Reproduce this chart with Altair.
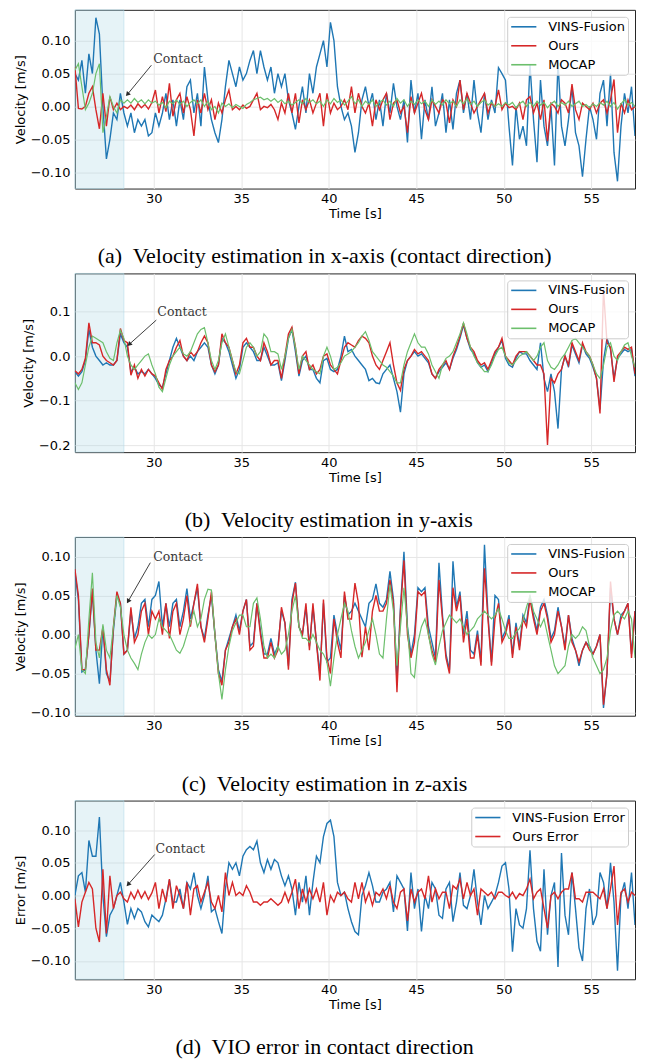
import altair as alt
import pandas as pd

# ---------------- shared axis values ----------------
T_START, T_STEP, N = 25.5, 0.2, 161
TIME = [round(T_START + T_STEP * i, 1) for i in range(N)]
X_DOMAIN = [25.5, 57.5]
X_TICKS = [30, 35, 40, 45, 50, 55]
SHADE = [25.5, 28.3]

# ---------------- (a) velocity x ----------------
A_VINS = [
    0.05, 0.04, 0.07, 0.02, 0.08,
    0.05, 0.135, 0.11, 0.0, -0.08,
    -0.05, -0.01, -0.02, 0.02, -0.01,
    -0.03, -0.01, -0.04, -0.02, -0.03,
    -0.02, -0.045, -0.04, -0.01, -0.03,
    -0.01, 0.02, -0.02, 0.01, -0.03,
    0.01, -0.02, 0.03, 0.04, -0.01,
    0.02, -0.03, 0.06, 0.01, -0.02,
    -0.04, -0.055, -0.02, 0.03, 0.07,
    0.05, 0.03, 0.06, 0.04, 0.05,
    0.07, 0.085, 0.05, 0.085, 0.06,
    0.04, 0.06, 0.02, 0.05, 0.03,
    0.05, 0.01, -0.01, -0.035, 0.0,
    0.03, -0.01, 0.05, 0.02, 0.06,
    0.08, 0.1, 0.06, 0.128, 0.1,
    0.03, 0.0, -0.02, -0.01, -0.03,
    -0.07, -0.04, 0.01, 0.03, 0.0,
    0.02, -0.02, 0.01, -0.03, 0.02,
    -0.01, 0.035, 0.0, -0.02, 0.01,
    -0.055, 0.04, -0.01, 0.02, -0.05,
    0.01, -0.02, 0.03, -0.03, -0.01,
    0.02, -0.04, 0.01, -0.035, 0.02,
    0.04, -0.01, 0.02, -0.02, 0.04,
    -0.01, -0.04, 0.02, -0.02, 0.01,
    -0.01, 0.059, 0.05, 0.04, -0.03,
    -0.09, 0.0, -0.05, -0.03, -0.06,
    0.064, -0.02, -0.085, 0.04, -0.03,
    -0.06, 0.0, -0.09, 0.067, -0.03,
    -0.06, -0.02, 0.03, -0.04, -0.06,
    -0.107, -0.05, 0.0, -0.02, -0.05,
    0.02, 0.04, -0.03, 0.05, -0.07,
    -0.114, -0.03, 0.02, -0.01, 0.03,
    -0.045,
]
A_OURS = [
    0.06, -0.003, -0.004, 0.0, 0.02,
    0.03, -0.005, -0.034, 0.02, -0.03,
    0.015, -0.005, 0.005, -0.005, 0.0,
    -0.003, 0.002, -0.005, 0.004, -0.002,
    0.003, -0.004, 0.006, 0.025, -0.01,
    0.015, -0.008, 0.035, -0.015, 0.01,
    0.02, -0.01, 0.015, -0.005, -0.045,
    0.01, -0.01, 0.02, -0.005, 0.01,
    -0.02, 0.005, -0.01, 0.01, 0.025,
    -0.005, 0.0, -0.005, 0.002, -0.003,
    0.0, 0.01, 0.02, -0.005, 0.0,
    -0.002, 0.003, -0.005, -0.02, 0.005,
    -0.01, 0.02, -0.01, 0.02, -0.025,
    0.01, -0.005, 0.01, -0.01, 0.005,
    0.02, -0.03, 0.02, -0.01, 0.005,
    -0.005, 0.0, 0.01, -0.005, 0.03,
    -0.01, 0.02, 0.0, -0.01, 0.005,
    -0.03, 0.01, -0.005, 0.01, 0.02,
    -0.02, 0.005, 0.01, -0.01, 0.0,
    -0.04, 0.015, -0.01, 0.005, 0.02,
    -0.005, -0.02, 0.01, 0.0, -0.01,
    0.01, 0.005, -0.025, 0.01, 0.0,
    0.04, -0.005, 0.02, 0.005, -0.01,
    0.0, 0.01, 0.02, -0.01, 0.005,
    0.0, 0.025, -0.005, 0.005, -0.002,
    0.0, -0.005, 0.005, -0.02, 0.01,
    0.015, -0.01, 0.005, -0.02, 0.01,
    -0.053, 0.005, 0.0, -0.01, 0.01,
    0.005, -0.01, 0.034, -0.005, -0.02,
    0.005, 0.0, -0.005, 0.005, -0.01,
    0.005, 0.01, -0.01, 0.01, 0.041,
    -0.04, 0.005, -0.01, 0.01, -0.005,
    0.0,
]
A_MOCAP = [
    0.055, 0.065, 0.03, -0.005, 0.005,
    0.02, 0.05, 0.065, -0.04, -0.015,
    0.015, 0.0, -0.01, 0.01, 0.005,
    0.01, 0.005, 0.012, 0.006, 0.01,
    0.004, 0.01, 0.005, 0.008, 0.002,
    0.006, -0.002, 0.008, 0.004, 0.01,
    0.003, 0.008, 0.0, 0.006, 0.01,
    0.004, 0.01, 0.0, 0.008, -0.005,
    0.0, -0.01, 0.005, 0.0, 0.004,
    -0.002, 0.003, 0.0, -0.003, 0.003,
    0.006, 0.01, 0.012, 0.014, 0.01,
    0.012, 0.008, 0.012, 0.006, 0.01,
    0.004, 0.008, 0.002, 0.006, 0.01,
    0.004, 0.012, 0.006, 0.01, 0.004,
    0.008, 0.0, 0.01, 0.004, 0.012,
    0.006, 0.01, 0.002, 0.008, 0.015,
    0.004, 0.01, 0.0, 0.008, 0.003,
    0.01, 0.0, 0.006, 0.01, 0.002,
    0.008, 0.0, 0.012, 0.005, 0.01,
    0.0, 0.008, 0.003, 0.01, 0.004,
    0.008, 0.0, 0.01, 0.003, 0.008,
    0.002, 0.01, 0.004, 0.008, 0.0,
    0.01, 0.004, 0.012, 0.003, 0.008,
    0.0, 0.006, 0.01, 0.002, 0.006,
    0.0, 0.004, 0.0, 0.006, 0.002,
    0.006, -0.002, 0.004, 0.008, 0.0,
    0.006, 0.0, 0.008, 0.002, 0.006,
    -0.002, 0.004, 0.008, 0.0, 0.006,
    0.002, 0.008, 0.0, 0.004, 0.008,
    0.0, 0.003, -0.002, 0.004, 0.0,
    0.006, 0.002, 0.008, 0.0, 0.006,
    -0.004, 0.004, 0.01, 0.002, 0.006,
    0.0,
]

# ---------------- (b) velocity y ----------------
B_VINS = [
    -0.035, -0.045, -0.035, -0.01, 0.06,
    0.02, 0.0, -0.01, -0.02, -0.015,
    -0.02, -0.02, -0.01, 0.05, 0.03,
    0.02, -0.035, -0.025, -0.04, -0.035,
    -0.04, -0.03, -0.04, -0.05, -0.065,
    -0.07, -0.04, -0.01, 0.02, 0.04,
    0.02, 0.0, -0.01, 0.0, -0.01,
    0.01, 0.02, 0.03, 0.02, -0.02,
    -0.04, -0.02, 0.04, 0.03, 0.01,
    -0.02, -0.05, -0.03, 0.02, 0.03,
    0.02, 0.01, -0.01, -0.01, 0.02,
    0.0, -0.02, -0.02, -0.015, -0.055,
    -0.01, 0.04, 0.06, 0.01, -0.045,
    -0.01, 0.0, -0.03, -0.03, -0.05,
    -0.06, -0.01, -0.005, -0.03, -0.035,
    -0.03, 0.0, 0.045, 0.01, 0.015,
    0.0, -0.01, -0.02, -0.03, -0.055,
    -0.05, -0.06, -0.062, -0.04, -0.03,
    -0.02, -0.05, -0.08, -0.126, -0.04,
    -0.01, 0.0, 0.01, 0.0, 0.005,
    -0.005, -0.015, -0.04, -0.05, -0.035,
    -0.025, -0.015, -0.03, -0.005, 0.015,
    0.04, 0.07, 0.04, 0.015, 0.005,
    -0.015, -0.025, -0.02, -0.035, -0.015,
    0.005, 0.02, 0.035, -0.005, -0.02,
    -0.025, -0.005, 0.01, 0.005, 0.005,
    -0.01, -0.02, -0.03, 0.03, -0.05,
    -0.08, -0.04, -0.08, -0.163, -0.03,
    0.0, -0.025, 0.025, 0.005, -0.015,
    0.025, 0.005, -0.005, -0.025, -0.05,
    -0.12, -0.01, 0.04, 0.015, -0.05,
    -0.005, 0.005, 0.015, 0.01, 0.015,
    -0.045,
]
B_OURS = [
    -0.033, -0.04, -0.03, -0.005, 0.075,
    0.03, 0.03, 0.025, 0.0, -0.01,
    -0.015, -0.02, -0.01, 0.062, 0.035,
    0.03, -0.043, -0.02, -0.05, -0.03,
    -0.045, -0.03, -0.04, -0.045, -0.06,
    -0.075, -0.03, -0.01, 0.0, 0.02,
    0.035, 0.0, -0.01, 0.01, 0.0,
    0.01, 0.03, 0.045, 0.03, -0.02,
    -0.035, -0.02, 0.05, 0.03, 0.02,
    -0.01, -0.04, -0.02, 0.03, 0.04,
    0.02, 0.02, 0.0, -0.01, 0.03,
    0.01, -0.02, -0.01, -0.01, -0.05,
    0.0, 0.05, 0.065, 0.02, -0.04,
    0.0, 0.01, -0.03, -0.02, -0.04,
    -0.03, 0.0, 0.005, -0.02, -0.03,
    -0.04, -0.01, 0.02, 0.03, 0.025,
    0.02, 0.035, 0.045, 0.04, 0.03,
    0.0, -0.02, -0.03, -0.01, 0.01,
    0.03, -0.02, -0.06, -0.077, -0.03,
    -0.01, 0.0, 0.015, 0.005, 0.01,
    0.0, -0.01, -0.04, -0.05, -0.03,
    -0.02, -0.01, -0.03, 0.0, 0.02,
    0.045, 0.074, 0.04, 0.02, 0.01,
    -0.01, -0.02, -0.015, -0.03, -0.01,
    0.01, 0.02, 0.04, 0.0, -0.01,
    -0.02, 0.0, 0.01, 0.01, 0.01,
    0.0, -0.01, -0.02, -0.02, -0.04,
    -0.2, -0.05, -0.06, -0.04, -0.03,
    0.0, -0.02, 0.03, 0.01, -0.01,
    0.03, 0.01, 0.0, -0.02, -0.05,
    -0.129, 0.15, 0.03, 0.02, -0.058,
    0.0, 0.01, 0.02, 0.015, 0.02,
    -0.04,
]
B_MOCAP = [
    -0.06, -0.075, -0.06, -0.02, 0.02,
    0.045, 0.04, 0.035, 0.03, 0.01,
    -0.005, -0.01, 0.03, 0.058, 0.04,
    0.0, -0.02, -0.03, -0.02, -0.01,
    0.0, 0.005, -0.02, -0.04, -0.07,
    -0.08, -0.05, -0.02, 0.0, 0.01,
    0.02, 0.005, 0.0, 0.01, 0.03,
    0.05, 0.06, 0.064, 0.03, -0.01,
    -0.03, -0.01, 0.03, 0.05, 0.02,
    -0.01, -0.035, -0.04, -0.01, 0.02,
    0.03, 0.02, 0.0, 0.01, 0.05,
    0.04, 0.01, 0.01, 0.005, -0.03,
    0.0, 0.04, 0.06, 0.02, -0.03,
    0.0, -0.01, -0.02, -0.03, -0.035,
    -0.04, 0.0, 0.02, 0.0, -0.03,
    -0.025, -0.015, 0.0, 0.005, 0.01,
    0.02, 0.03, 0.045, 0.055, 0.035,
    0.01, 0.0, -0.01, -0.02, -0.025,
    -0.035, -0.045, -0.06, -0.06, -0.02,
    0.01, 0.03, 0.05, 0.03, 0.02,
    0.02, 0.005, -0.02, -0.035, -0.05,
    -0.02, -0.005, 0.0, 0.01, 0.03,
    0.05, 0.075, 0.05, 0.02, 0.0,
    -0.015, -0.025, -0.035, -0.035, -0.02,
    0.0, 0.015, 0.02, 0.0, -0.015,
    -0.02, -0.01, 0.0, 0.005, 0.01,
    0.0, -0.01, 0.0, 0.02, 0.03,
    -0.01, -0.025, -0.03, -0.02, -0.005,
    0.005, 0.02, 0.035, 0.04, 0.03,
    0.02, 0.01, 0.0, -0.02, -0.04,
    -0.05, -0.02, 0.02, 0.03, 0.0,
    -0.01, 0.01, 0.025, 0.03, 0.0,
    -0.025,
]

# ---------------- (c) velocity z ----------------
C_VINS = [
    0.08, 0.045, -0.048, -0.045, 0.0,
    0.055, -0.02, -0.063, 0.01, -0.05,
    -0.06, 0.005, 0.05, 0.04, -0.025,
    -0.02, 0.03, -0.005, 0.01, 0.04,
    0.045, 0.01, 0.045, 0.05, 0.068,
    0.01, 0.04, 0.01, 0.04, 0.045,
    0.01, 0.03, 0.059, 0.02, 0.04,
    0.06, 0.01, -0.005, 0.025, 0.05,
    0.0, -0.045, -0.06, -0.02, -0.005,
    0.01, 0.025, 0.005, 0.03, 0.045,
    -0.015, -0.01, 0.04, 0.005, -0.025,
    -0.025, -0.005, -0.025, -0.015, 0.03,
    0.015, -0.04, 0.045, 0.067, 0.01,
    0.0, 0.035, -0.015, 0.035, -0.01,
    -0.05, 0.04, -0.035, -0.03, 0.025,
    0.0, -0.02, 0.05, 0.025, 0.03,
    0.04, 0.03, 0.02, 0.01, 0.04,
    0.045, 0.065, 0.04, 0.035, 0.045,
    0.081, 0.045, -0.06, 0.035, 0.106,
    0.01, -0.025, 0.0, 0.06, 0.055,
    0.06, 0.01, -0.01, -0.03, 0.092,
    0.025, -0.025, -0.045, 0.094, 0.035,
    0.055, 0.0, 0.03, -0.02, -0.025,
    0.005, -0.035, 0.115, 0.025, -0.035,
    0.05, 0.045, -0.005, 0.005, 0.025,
    -0.025, 0.015, -0.015, 0.025, 0.015,
    0.05, 0.025, 0.005, 0.035, 0.045,
    0.025, -0.005, 0.005, 0.035, 0.01,
    -0.015, 0.025, -0.005, -0.02, -0.04,
    -0.02, -0.01, -0.015, -0.025, -0.015,
    0.0, -0.094, -0.05, 0.06, 0.02,
    0.0, 0.025, 0.03, 0.04, -0.025,
    0.03,
]
C_OURS = [
    0.084, 0.05, -0.045, -0.045, 0.0,
    0.059, -0.02, -0.02, 0.01, -0.045,
    -0.065, 0.01, 0.055, 0.04, -0.025,
    -0.02, 0.035, -0.01, 0.0, 0.03,
    0.04, 0.0, 0.03, 0.02, 0.03,
    0.0, 0.04, -0.005, 0.03, 0.04,
    0.0, 0.02, 0.05, 0.01, 0.04,
    0.065, 0.01, -0.01, 0.02, 0.055,
    0.0, -0.05, -0.065, -0.02, -0.01,
    0.01, 0.02, 0.0, 0.03, 0.045,
    -0.02, -0.015, 0.04, 0.0, -0.03,
    -0.03, -0.01, -0.03, -0.02, 0.035,
    0.015, -0.045, 0.04, 0.066, 0.01,
    0.0, 0.04, -0.02, 0.04, -0.01,
    -0.059, 0.045, -0.03, -0.05, 0.02,
    -0.01, -0.03, 0.055, 0.02, 0.02,
    0.066, 0.04, -0.029, 0.01, -0.02,
    0.03, 0.05, 0.03, 0.03, 0.04,
    0.07, 0.04, -0.074, 0.03, 0.095,
    0.0, -0.03, -0.01, 0.055, 0.05,
    0.055, 0.0, -0.02, -0.035, 0.07,
    0.02, -0.03, -0.05, 0.06, 0.03,
    0.05, -0.01, 0.02, -0.03, -0.03,
    0.0, -0.04, 0.085, 0.02, -0.04,
    0.02, 0.04, -0.01, 0.0, 0.02,
    -0.03, 0.01, -0.02, 0.02, 0.01,
    0.045, 0.02, 0.0, 0.03, 0.04,
    0.02, -0.01, 0.0, 0.03, 0.01,
    -0.02, 0.025, -0.01, -0.02, -0.035,
    -0.02, -0.01, -0.02, -0.025, -0.015,
    0.0, -0.09, -0.05, 0.068, 0.02,
    0.0, 0.02, 0.03, 0.04, -0.03,
    0.03,
]
C_MOCAP = [
    -0.018, 0.0, -0.045, -0.05, 0.02,
    0.079, -0.01, -0.03, 0.013, -0.02,
    -0.03, 0.01, 0.05, 0.035, 0.0,
    -0.02, -0.03, -0.037, -0.045, -0.025,
    -0.01, 0.0, -0.005, 0.0, 0.02,
    0.01, 0.005, 0.0, -0.01, -0.02,
    -0.024, -0.015, 0.0, 0.015, 0.03,
    0.01, 0.02, 0.045, 0.058, 0.057,
    0.0, -0.05, -0.083, -0.045, -0.015,
    0.005, 0.015, 0.025, 0.025, 0.01,
    0.01, 0.04, 0.047, 0.02, -0.015,
    -0.03, -0.025, -0.03, -0.015, -0.025,
    -0.02, 0.0, 0.03, 0.05, 0.01,
    -0.005, -0.005, -0.01, 0.0, -0.01,
    -0.02, -0.025, -0.035, -0.066, -0.03,
    0.0, 0.02, 0.04, 0.03, 0.005,
    -0.015, -0.03, -0.02, -0.01, 0.005,
    0.02, 0.0, -0.025, -0.03, 0.02,
    0.064, 0.03, -0.04, 0.01, 0.06,
    0.01, -0.05, -0.055, -0.01, 0.01,
    0.02, 0.0, -0.025, -0.039, -0.015,
    0.005, 0.015, 0.025, 0.02, 0.015,
    0.02, 0.01, 0.0, 0.005, 0.01,
    0.02, 0.025, 0.03, 0.025, 0.02,
    0.025, 0.033, 0.02, 0.005, -0.005,
    -0.005, 0.003, 0.008, 0.018, 0.035,
    0.05, 0.03, 0.02, 0.01, 0.02,
    0.0, -0.02, -0.04, -0.05, -0.045,
    -0.04, -0.015, 0.0, -0.005, 0.0,
    0.01, 0.005, -0.015, -0.03, -0.04,
    -0.05, -0.045, -0.03, 0.005, 0.025,
    0.03, 0.025, 0.02, 0.03, 0.02,
    -0.03,
]

# ---------------- (d) error in contact direction ----------------
D_VINS_ERR = [
    0.0, 0.03, 0.035, 0.005, 0.084,
    0.06, 0.06, 0.12, 0.0, -0.063,
    -0.03, -0.02, 0.0, 0.02, -0.01,
    -0.044, -0.02, -0.035, -0.02, -0.025,
    -0.04, -0.048, -0.03, -0.035, -0.04,
    -0.03, -0.005, 0.024, -0.01, -0.01,
    0.01, -0.02, 0.02, 0.01, 0.035,
    0.0, -0.02, 0.0, 0.03, -0.025,
    -0.02, -0.04, -0.058, 0.01, 0.05,
    0.04, 0.05, 0.03, 0.06, 0.07,
    0.075, 0.07, 0.083, 0.05, 0.035,
    0.055, 0.04, 0.055, 0.05, 0.03,
    0.015, 0.03, 0.01, -0.03, 0.02,
    -0.01, 0.03, -0.03, 0.02, 0.06,
    0.05, 0.09, 0.11, 0.115, 0.09,
    0.02, 0.0, 0.005, -0.02, -0.04,
    -0.055, -0.06, 0.0, 0.015, 0.035,
    0.015, -0.01, -0.01, 0.005, 0.01,
    0.02, -0.025, 0.03, 0.02, 0.01,
    -0.054, 0.035, -0.02, 0.01, -0.055,
    0.0, -0.02, 0.02, 0.01, -0.03,
    -0.035, 0.01, 0.02, -0.04, -0.01,
    0.035, -0.015, -0.02, 0.0, 0.04,
    -0.01, -0.045, 0.0, -0.02, -0.01,
    0.0, 0.02, 0.045, 0.05, 0.01,
    -0.086, -0.02, -0.045, -0.05, -0.02,
    0.069, -0.02, -0.07, -0.085, 0.04,
    -0.06, 0.0, 0.02, -0.109, 0.065,
    -0.03, -0.06, 0.035, -0.02, -0.08,
    -0.1, -0.02, 0.01, -0.045, -0.03,
    0.035, 0.02, -0.02, 0.05, -0.01,
    -0.115, 0.0, 0.02, -0.02, 0.035,
    -0.045,
]
D_OURS_ERR = [
    -0.005, -0.048, -0.01, 0.005, 0.02,
    0.01, -0.05, -0.071, 0.04, -0.058,
    0.03, -0.02, 0.0, 0.005, -0.005,
    -0.01, 0.005, -0.005, 0.008, -0.004,
    0.006, -0.006, 0.004, 0.02, -0.02,
    0.01, -0.01, 0.025, -0.02, 0.015,
    0.0, -0.02, 0.02, -0.03, 0.01,
    0.015, -0.01, 0.005, 0.02, -0.01,
    -0.02, 0.0, -0.025, 0.035, 0.0,
    0.02, 0.0, 0.005, 0.0, 0.015,
    0.005, -0.01, -0.01, -0.015, -0.01,
    -0.01, -0.005, -0.01, -0.015, -0.01,
    0.005, -0.01, 0.005, 0.025, -0.02,
    0.01, -0.01, 0.01, -0.005, 0.01,
    -0.01, 0.02, -0.03, 0.0, -0.01,
    0.005, 0.0, 0.005, -0.005, -0.01,
    0.02, -0.005, 0.02, -0.01, 0.005,
    -0.015, 0.005, 0.0, 0.01, -0.005,
    0.015, -0.01, -0.02, 0.005, 0.01,
    -0.039, 0.01, -0.01, 0.005, 0.01,
    -0.005, 0.03, -0.01, 0.01, -0.005,
    0.005, 0.005, -0.02, 0.015, 0.01,
    0.025, -0.005, 0.02, 0.0, 0.01,
    -0.03, 0.01, 0.005, 0.0, 0.005,
    -0.005, 0.005, 0.005, 0.0, -0.003,
    0.005, -0.005, 0.003, 0.0, 0.01,
    0.025, -0.005, 0.005, 0.01, -0.02,
    -0.05, 0.0, 0.005, -0.005, 0.005,
    0.01, 0.01, 0.035, -0.005, -0.005,
    -0.01, 0.005, 0.005, 0.005, 0.0,
    -0.005, 0.01, -0.02, 0.01, 0.045,
    -0.045, 0.005, 0.01, -0.01, 0.005,
    0.0,
]

# ---------------- legends / styling ----------------
NAMES_V = ["VINS-Fusion", "Ours", "MOCAP"]
NAMES_E = ["VINS-Fusion Error", "Ours Error"]
COLORS_V = ["#1f77b4", "#d62728", "#6cbf6c"]
COLORS_E = ["#1f77b4", "#d62728"]
WIDTHS_V = [1.4, 1.4, 1.2]
WIDTHS_E = [1.4, 1.4]

CAPTIONS = [
    "(a)\u00a0 Velocity estimation in x-axis (contact direction)",
    "(b)\u00a0 Velocity estimation in y-axis",
    "(c)\u00a0 Velocity estimation in z-axis",
    "(d)\u00a0 VIO error in contact direction",
]
Y_DOMAINS = [[-0.125, 0.147], [-0.216, 0.186], [-0.104, 0.125], [-0.128, 0.145]]
Y_TICKS = [
    [-0.10, -0.05, 0.0, 0.05, 0.10],
    [-0.2, -0.1, 0.0, 0.1],
    [-0.10, -0.05, 0.0, 0.05, 0.10],
    [-0.10, -0.05, 0.0, 0.05, 0.10],
]
Y_FORMATS = [".2f", ".1f", ".2f", ".2f"]
Y_TITLES = ["Velocity [m/s]", "Velocity [m/s]", "Velocity [m/s]", "Error [m/s]"]

# annotation "Contact": text anchor (t, v), arrow start (t, v), arrow tip (t, v), head angle
CONTACT_TEXT = [(29.97, 0.0654), (30.21, 0.0899), (29.97, 0.0937), (30.11, 0.0652)]
ARROW_START = [(29.87, 0.0627), (30.15, 0.081), (29.81, 0.0921), (30.06, 0.0626)]
ARROW_TIP = [(28.50, 0.0183), (28.60, 0.0263), (28.54, 0.0426), (28.54, 0.0168)]
ARROW_ANGLE = [221, 228, 210, 222]

PLOT_W, PLOT_H = 561, 179


def panel(k, names, series, colors, widths):
    x = alt.X("t:Q", title="Time [s]",
              scale=alt.Scale(domain=X_DOMAIN, nice=False, zero=False),
              axis=alt.Axis(values=X_TICKS, format="d"))
    y = alt.Y("v:Q", title=Y_TITLES[k],
              scale=alt.Scale(domain=Y_DOMAINS[k], nice=False, zero=False),
              axis=alt.Axis(values=Y_TICKS[k], format=Y_FORMATS[k]))

    shade = alt.Chart(pd.DataFrame({"t": [SHADE[0]], "t2": [SHADE[1]]})).mark_rect(
        fill="#add8e6", fillOpacity=0.3, stroke="#add8e6", strokeOpacity=0.5, strokeWidth=1
    ).encode(x=x, x2="t2:Q")

    legend = alt.Legend(
        title=None, orient="top-right", offset=7, padding=3,
        fillColor="rgba(255,255,255,0.8)", strokeColor="#cccccc", cornerRadius=3,
        symbolType="M-1,0H3.2", symbolSize=144, symbolStrokeWidth=1.6,
        labelFont="DejaVu Sans", labelFontSize=13, labelColor="#000000",
        labelOffset=24, rowPadding=5, labelLimit=0,
    )
    color = alt.Color("series:N", scale=alt.Scale(domain=names, range=colors), legend=legend)

    lines = []
    for name, vals, w in zip(names, series, widths):
        assert len(vals) == N, (name, len(vals))
        df = pd.DataFrame({"t": TIME, "v": vals, "series": name})
        lines.append(
            alt.Chart(df).mark_line(strokeWidth=w, clip=True).encode(x=x, y=y, color=color)
        )

    tx, tv = CONTACT_TEXT[k]
    text = alt.Chart(pd.DataFrame({"t": [tx], "v": [tv], "label": ["Contact"]})).mark_text(
        align="left", baseline="alphabetic", font="DejaVu Serif", fontSize=12.5, color="#3a3a3a"
    ).encode(x=x, y=y, text="label:N")

    (sx, sv), (ex, ev) = ARROW_START[k], ARROW_TIP[k]
    arrow = alt.Chart(pd.DataFrame({"t": [sx], "v": [sv], "t2": [ex], "v2": [ev]})).mark_rule(
        color="#2a2a2a", strokeWidth=0.9
    ).encode(x=x, y=y, x2="t2:Q", y2="v2:Q")
    head = alt.Chart(pd.DataFrame({"t": [ex], "v": [ev]})).mark_point(
        shape="triangle-up", filled=True, size=28, angle=ARROW_ANGLE[k], color="#2a2a2a", opacity=1
    ).encode(x=x, y=y)

    return alt.layer(shade, *lines, text, arrow, head).properties(
        width=PLOT_W, height=PLOT_H,
        title=alt.TitleParams(CAPTIONS[k], orient="bottom", anchor="middle", frame="bounds",
                              offset=26, font="Liberation Serif", fontSize=22,
                              fontWeight="normal", color="#000000"),
    )


pa = panel(0, NAMES_V, [A_VINS, A_OURS, A_MOCAP], COLORS_V, WIDTHS_V)
pb = panel(1, NAMES_V, [B_VINS, B_OURS, B_MOCAP], COLORS_V, WIDTHS_V)
pc = panel(2, NAMES_V, [C_VINS, C_OURS, C_MOCAP], COLORS_V, WIDTHS_V)
pd_ = panel(3, NAMES_E, [D_VINS_ERR, D_OURS_ERR], COLORS_E, WIDTHS_E)

chart = alt.vconcat(pa, pb, pc, pd_, spacing=4).resolve_scale(color="independent").properties(
    padding={"left": 5, "top": 0, "right": 2, "bottom": 0}
).configure_view(
    stroke="#262626", strokeWidth=1
).configure_axis(
    labelFont="DejaVu Sans", labelFontSize=13, labelColor="#000000",
    titleFont="DejaVu Sans", titleFontSize=13, titleFontWeight="normal", titleColor="#000000",
    gridColor="#e6e6e6", gridWidth=1, domain=False, ticks=False,
).configure_axisX(
    labelPadding=4, titlePadding=2,
).configure_axisY(
    labelPadding=5, titlePadding=3,
)

chart.save("out.html", embed_options={"renderer": "svg", "actions": False})
